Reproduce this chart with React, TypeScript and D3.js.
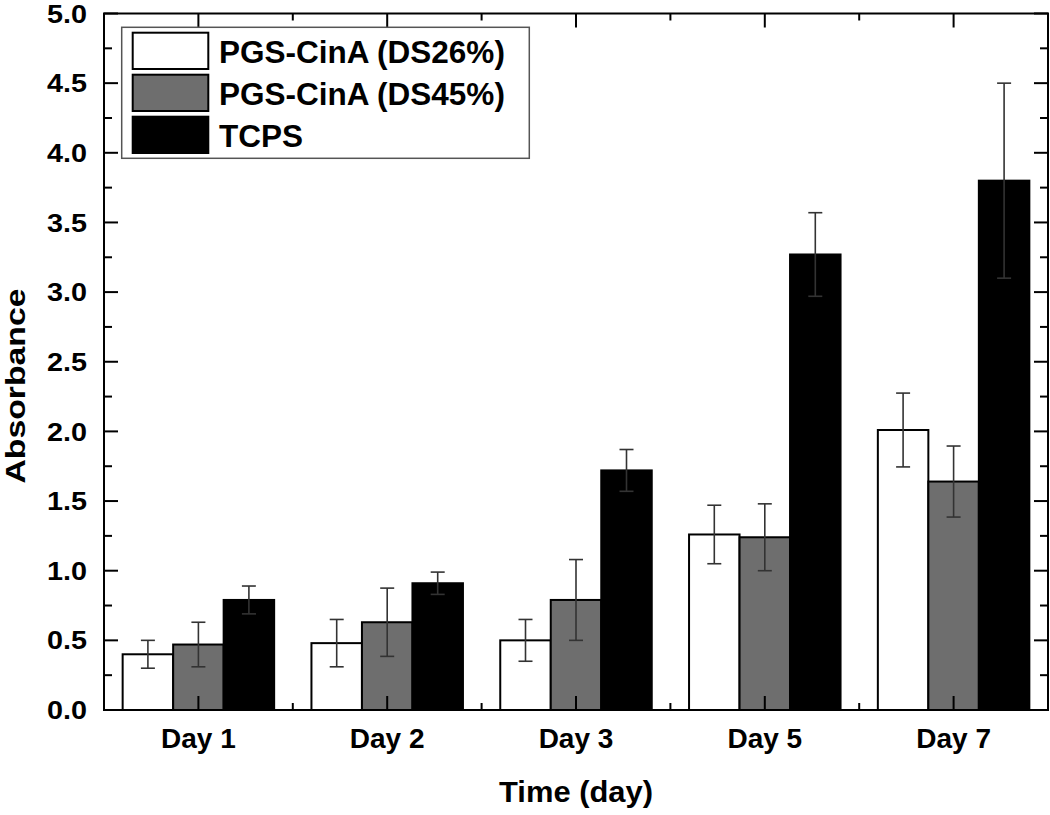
import React from "react";
import * as d3 from "d3";

const categories = ["Day 1", "Day 2", "Day 3", "Day 5", "Day 7"];
const seriesNames = ["PGS-CinA (DS26%)", "PGS-CinA (DS45%)", "TCPS"];
const ds26 = [0.40, 0.48, 0.50, 1.26, 2.01];
const ds26Err = [0.10, 0.17, 0.15, 0.21, 0.265];
const ds45 = [0.47, 0.63, 0.79, 1.24, 1.64];
const ds45Err = [0.16, 0.245, 0.29, 0.24, 0.255];
const tcps = [0.79, 0.91, 1.72, 3.27, 3.80];
const tcpsErr = [0.10, 0.08, 0.15, 0.30, 0.70];
const yTickLabels = ["0.0", "0.5", "1.0", "1.5", "2.0", "2.5", "3.0", "3.5", "4.0", "4.5", "5.0"];
const fills = ["#ffffff", "#6e6e6e", "#000000"];

const W = 1050, H = 815;
const L = 104, R = 1048, T = 13.5, B = 710;
const FONT = "'Liberation Sans', Arial, Helvetica, sans-serif";

export default function App() {
  const x = d3.scaleLinear().domain([0.5, categories.length + 0.5]).range([L, R]);
  const y = d3.scaleLinear().domain([0, 5]).range([B, T]);
  const barW = 50.5;
  const values = [ds26, ds45, tcps];
  const errs = [ds26Err, ds45Err, tcpsErr];

  const majorY = d3.range(0, 5.0001, 0.5);
  const minorY = d3.range(0.25, 5, 0.5);
  const majorX = d3.range(1, categories.length + 1);
  const minorX = d3.range(1.5, categories.length + 0.5, 1);

  return (
    <svg width={W} height={H} style={{ position: "absolute", left: 0, top: 0, background: "#fff" }} fontFamily={FONT}>
      {/* bars */}
      {values.map((vals, s) =>
        vals.map((v, i) => {
          const cx = x(i + 1) + (s - 1) * barW;
          return (
            <rect key={`b${s}-${i}`} x={cx - barW / 2} y={y(v)} width={barW} height={y(0) - y(v)}
              fill={fills[s]} stroke="#000" strokeWidth={2} />
          );
        })
      )}
      {/* error bars */}
      {values.map((vals, s) =>
        vals.map((v, i) => {
          const cx = x(i + 1) + (s - 1) * barW;
          const e = errs[s][i];
          return (
            <g key={`e${s}-${i}`} stroke="#333" strokeWidth={1.6}>
              <line x1={cx} x2={cx} y1={y(v + e)} y2={y(v - e)} />
              <line x1={cx - 7} x2={cx + 7} y1={y(v + e)} y2={y(v + e)} />
              <line x1={cx - 7} x2={cx + 7} y1={y(v - e)} y2={y(v - e)} />
            </g>
          );
        })
      )}
      {/* ticks */}
      <g stroke="#000" strokeWidth={2}>
        {majorY.map((t) => (
          <g key={`my${t}`}>
            <line x1={L} x2={L + 14} y1={y(t)} y2={y(t)} />
            <line x1={R} x2={R - 14} y1={y(t)} y2={y(t)} />
          </g>
        ))}
        {minorY.map((t) => (
          <g key={`ny${t}`}>
            <line x1={L} x2={L + 8} y1={y(t)} y2={y(t)} />
            <line x1={R} x2={R - 8} y1={y(t)} y2={y(t)} />
          </g>
        ))}
        {majorX.map((t) => (
          <g key={`mx${t}`}>
            <line x1={x(t)} x2={x(t)} y1={B} y2={B - 14} />
            <line x1={x(t)} x2={x(t)} y1={T} y2={T + 14} />
          </g>
        ))}
        {minorX.map((t) => (
          <g key={`nx${t}`}>
            <line x1={x(t)} x2={x(t)} y1={B} y2={B - 7} />
            <line x1={x(t)} x2={x(t)} y1={T} y2={T + 7} />
          </g>
        ))}
      </g>
      {/* frame */}
      <rect x={L} y={T} width={R - L} height={B - T} fill="none" stroke="#000" strokeWidth={2} />
      {/* y tick labels */}
      {majorY.map((t, i) => (
        <text key={`yl${t}`} x={87} y={y(t)} dy="0.35em" textAnchor="end" fontSize={26} fontWeight="bold"
          textLength={40} lengthAdjust="spacingAndGlyphs">
          {yTickLabels[i]}
        </text>
      ))}
      {/* x tick labels */}
      {categories.map((c, i) => (
        <text key={`xl${c}`} x={x(i + 1)} y={748} textAnchor="middle" fontSize={28} fontWeight="bold">
          {c}
        </text>
      ))}
      {/* axis titles */}
      <text x={(L + R) / 2} y={802} textAnchor="middle" fontSize={29} fontWeight="bold"
        textLength={154} lengthAdjust="spacingAndGlyphs">Time (day)</text>
      <text transform={`translate(25,386) rotate(-90)`} textAnchor="middle" fontSize={28} fontWeight="bold"
        textLength={195} lengthAdjust="spacingAndGlyphs">Absorbance</text>
      {/* legend */}
      <rect x={121.7} y={27.3} width={407.6} height={131} fill="#fff" stroke="#555" strokeWidth={1.5} />
      {seriesNames.map((n, i) => {
        const ry = 32.7 + i * 42;
        return (
          <g key={`lg${i}`}>
            <rect x={132.7} y={ry} width={75.6} height={36.3} fill={fills[i]} stroke="#000" strokeWidth={2} />
            <text x={219} y={ry + 30.6} fontSize={31.5} fontWeight="bold">{n}</text>
          </g>
        );
      })}
    </svg>
  );
}
